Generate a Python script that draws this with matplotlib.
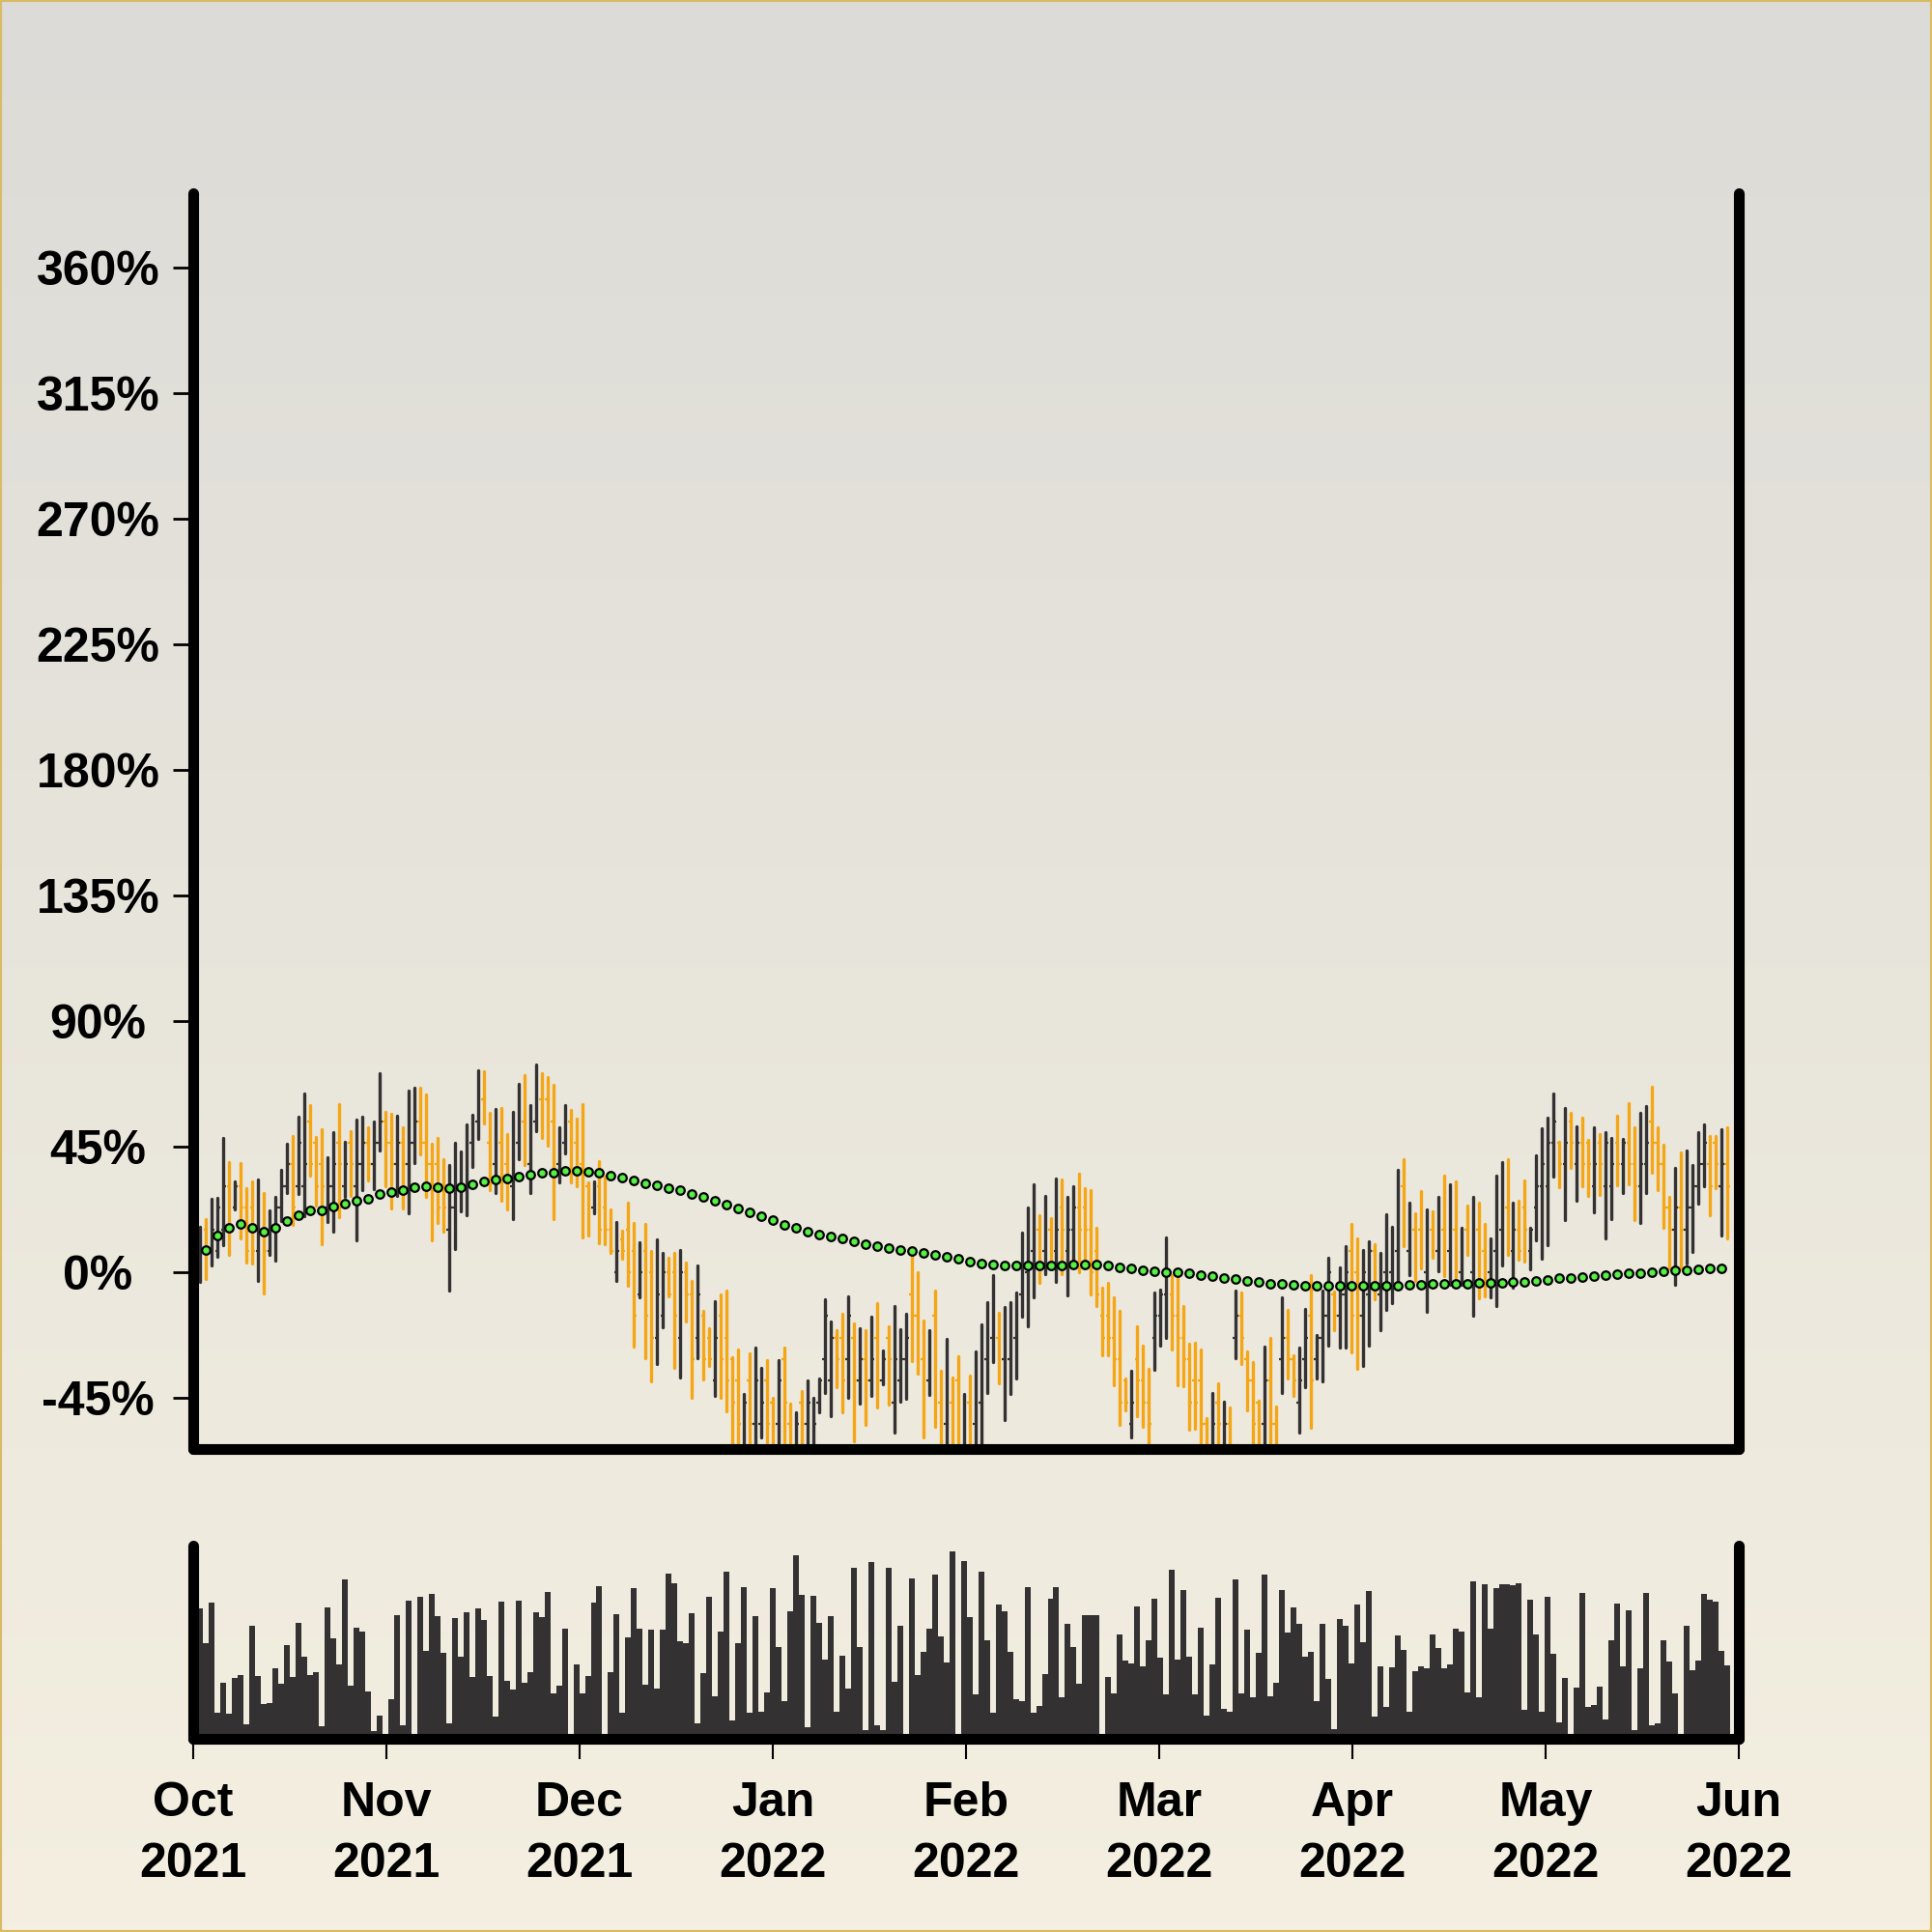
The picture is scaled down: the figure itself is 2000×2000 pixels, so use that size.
import numpy as np
import matplotlib
matplotlib.use('Agg')
import matplotlib.pyplot as plt
from matplotlib.colors import LinearSegmentedColormap
from matplotlib.patches import Rectangle

## Daily OHLC values (percent change), one entry per bar
highs = [
    16.4, 19.3, 26.6, 26.8, 48.4, 39.5, 32.6, 39.3, 30.1, 32.8,
    33.4, 28.4, 22.4, 27.2, 37.0, 46.1, 49.1, 56.0, 64.1, 60.1,
    48.7, 51.5, 41.2, 50.3, 60.3, 46.9, 50.7, 54.9, 55.9, 51.9,
    54.2, 71.5, 57.6, 56.8, 56.2, 51.9, 65.1, 66.3, 66.1, 64.0,
    46.1, 48.4, 40.7, 38.6, 46.4, 43.3, 53.1, 56.6, 72.4, 72.2,
    57.1, 58.6, 59.1, 49.5, 57.6, 67.8, 70.7, 60.1, 74.4, 71.6,
    70.1, 67.2, 52.2, 60.1, 58.3, 55.1, 60.3, 32.4, 32.8, 40.1,
    34.3, 22.8, 18.2, 15.1, 24.9, 17.9, 10.9, 17.4, 7.8, 11.8,
    7.0, 5.5, 6.9, 8.0, 3.7, -2.8, 2.4, -13.6, -19.9, -10.1,
    -7.8, -6.4, -30.3, -27.7, -43.6, -29.1, -26.8, -34.1, -31.4, -44.7,
    -31.2, -26.8, -46.8, -49.9, -42.4, -38.7, -44.7, -38.0, -9.5, -17.6,
    -20.5, -14.7, -8.6, -18.2, -19.9, -20.7, -15.9, -11.0, -28.0, -19.1,
    -12.1, -20.3, -14.7, 6.6, 0.3, -17.0, -20.7, -6.6, -35.2, -23.7,
    -37.6, -30.1, -43.4, -36.9, -28.3, -18.5, -10.7, -0.9, -14.5, -12.4,
    -10.7, -7.0, 14.4, 23.4, 31.7, 20.5, 27.6, 19.6, 33.7, 33.5,
    27.0, 31.1, 35.5, 30.1, 29.7, 15.9, -5.5, -3.7, -8.9, -13.6,
    -37.8, -35.2, -19.1, -26.2, -34.3, -7.0, -6.1, 12.6, -0.9, -0.9,
    -12.1, -25.5, -25.1, -27.6, -52.2, -43.0, -39.5, -46.4, -48.2, -6.3,
    -7.2, -28.2, -32.0, -45.8, -26.5, -23.4, -48.0, -8.7, -13.3, -29.7,
    -26.8, -13.0, -0.9, -22.2, -6.3, 5.2, -6.9, 2.0, 9.5, 17.6,
    12.1, 8.1, 11.2, 10.1, 7.2, 20.8, 16.4, 36.9, 40.7, 24.9,
    21.1, 29.1, 22.8, 21.9, 27.2, 34.7, 31.7, 32.6, 16.1, 24.2,
    27.1, 25.1, 17.6, 12.4, 34.7, 39.7, 40.7, 24.9, 25.9, 32.9,
    16.1, 42.1, 51.7, 55.5, 64.3, 47.0, 59.1, 57.4, 52.4, 55.7,
    47.6, 52.2, 49.6, 50.4, 48.2, 56.2, 47.8, 60.6, 52.2, 57.1,
    59.7, 66.6, 52.2, 45.9, 27.0, 37.4, 43.2, 43.9, 38.4, 50.2,
    53.1, 49.0, 49.0, 51.3, 52.2]
lows = [
    -3.2, -2.4, 2.6, 5.7, 9.7, 6.4, 22.6, 12.4, 3.5, 3.4,
    -2.8, -7.6, 6.4, 4.2, 18.4, 28.6, 17.0, 28.2, 20.1, 34.9,
    23.9, 10.3, 18.2, 14.7, 19.9, 27.2, 27.6, 11.6, 29.7, 33.2,
    29.9, 43.8, 30.9, 23.1, 27.4, 23.1, 21.1, 39.2, 42.4, 27.1,
    11.5, 17.8, 14.7, -6.6, 8.4, 22.0, 20.7, 37.8, 47.8, 53.4,
    29.7, 28.6, 25.9, 22.8, 19.3, 40.7, 38.7, 28.6, 50.8, 48.4,
    45.5, 19.3, 32.3, 42.6, 32.3, 30.9, 12.6, 13.2, 21.3, 10.7,
    10.3, 7.2, -2.9, 5.1, -4.7, -26.5, -8.9, -30.6, -38.9, -32.8,
    -19.6, -8.4, -34.2, -37.6, -17.6, -45.0, -30.5, -38.4, -33.4, -44.1,
    -44.7, -49.6, -66, -66, -68, -66, -70, -59.1, -60.9, -70,
    -66, -68, -70, -68, -67, -66, -70, -49.9, -43.0, -51.6,
    -41.2, -49.9, -44.7, -60.3, -47.0, -54.5, -44.1, -48.2, -40.1, -47.2,
    -57.2, -46.4, -45.3, -31.8, -36.1, -59.1, -43.8, -55.4, -66, -66,
    -66, -68, -66, -66, -68, -65, -43.0, -32.0, -39.5, -52.8,
    -43.6, -37.8, -15.9, -19.3, -8.9, -3.7, -0.6, 4.7, -3.4, -0.6,
    -8.1, 4.0, 0.3, 5.1, -7.8, -11.8, -29.7, -29.7, -40.4, -54.5,
    -49.3, -59.1, -51.6, -55.1, -66, -34.9, -26.0, -23.4, -27.7, -40.4,
    -40.7, -56.2, -56.0, -66, -68, -66, -66, -68, -66, -30.6,
    -32.8, -49.3, -66, -68, -66, -66, -66, -43.0, -38.1, -44.1,
    -57.4, -41.2, -55.7, -38.1, -38.9, -26.2, -20.5, -26.8, -26.8, -28.6,
    -34.6, -33.4, -26.0, -9.5, -20.5, -13.3, -10.9, -4.9, 9.5, -0.9,
    -2.9, 1.4, -14.1, 5.3, 0.5, -1.4, -4.3, -4.3, -4.3, 6.3,
    -15.3, -9.3, -8.6, -8.9, -12.1, 2.4, 6.3, -5.5, 4.7, 4.0,
    1.2, 11.6, 4.9, 9.9, 34.3, 30.6, 18.7, 37.6, 25.6, 31.1,
    27.6, 21.6, 28.0, 12.1, 19.1, 31.2, 28.6, 31.8, 19.0, 17.8,
    28.6, 35.7, 29.4, 16.1, 1.4, -4.3, 1.4, 3.4, 7.5, 24.6,
    31.1, 20.5, 30.3, 13.2, 12.1]
opens = [
    0, 15.5, 7.75, 7.75, 15.5, 31, 23.25, 31, 23.25, 23.25,
    7.75, 15.5, 7.75, 15.5, 23.25, 31, 38.75, 31, 31, 54.25,
    46.5, 38.75, 23.25, 31, 46.5, 31, 46.5, 31, 38.75, 46.5,
    38.75, 46.5, 54.25, 46.5, 38.75, 46.5, 38.75, 46.5, 54.25, 46.5,
    38.75, 38.75, 31, 15.5, 23.25, 31, 31, 46.5, 54.25, 62,
    46.5, 38.75, 46.5, 38.75, 31, 46.5, 54.25, 38.75, 54.25, 62,
    62, 54.25, 38.75, 46.5, 54.25, 46.5, 38.75, 31, 23.25, 31,
    23.25, 15.5, 0, 12, 15.5, 7.75, -7.75, 7.75, 0, -23.25,
    -15.5, 0, 0, -23.25, 0, -7.75, -23.25, -15.5, -23.25, -38.75,
    -15.5, -23.25, -31, -38.75, -62, -38.75, -54.25, -54.25, -38.75, -46.5,
    -54.25, -31, -54.25, -62, -46.5, -54.25, -62, -46.5, -31, -38.75,
    -23.25, -23.25, -31, -23.25, -38.75, -31, -38.75, -23.25, -38.75, -23.25,
    -46.5, -38.75, -31, -7.75, -15.5, -31, -38.75, -15.5, -46.5, -54.25,
    -46.5, -38.75, -62, -46.5, -54.25, -46.5, -31, -23.25, -23.25, -31,
    -31, -23.25, -7.75, 0, 7.75, 15.5, 7.75, 15.5, 7.75, 23.25,
    7.75, 15.5, 23.25, 23.25, 15.5, 7.75, -15.5, -15.5, -23.25, -31,
    -38.75, -54.25, -31, -38.75, -46.5, -23.25, -15.5, -7.75, -7.75, -15.5,
    -23.25, -31, -38.75, -38.75, -54.25, -62, -46.5, -62, -54.25, -23.25,
    -15.5, -31, -38.75, -46.5, -54.25, -38.75, -54.25, -31, -23.25, -31,
    -46.5, -31, -15.5, -31, -23.25, -15.5, -7.75, -15.5, -7.75, 7.75,
    0, -15.5, -7.75, 7.75, -7.75, 0, 0, 7.75, 31, 7.75,
    15.5, 15.5, 0, 15.5, 7.75, 15.5, 7.75, 15.5, 0, 15.5,
    0, 15.5, 7.75, 0, 7.75, 15.5, 23.25, 7.75, 15.5, 23.25,
    7.75, 23.25, 31, 31, 46.5, 46.5, 38.75, 54.25, 38.75, 46.5,
    46.5, 31, 46.5, 31, 31, 46.5, 38.75, 46.5, 38.75, 31,
    38.75, 54.25, 46.5, 38.75, 23.25, 15.5, 23.25, 15.5, 23.25, 31,
    38.75, 38.75, 46.5, 31, 38.75]
closes = [
    7.75, 7.75, 15.5, 23.25, 31, 15.5, 31, 23.25, 7.75, 7.75,
    15.5, 7.75, 15.5, 23.25, 31, 38.75, 23.25, 46.5, 38.75, 38.75,
    31, 31, 31, 38.75, 38.75, 38.75, 38.75, 38.75, 46.5, 38.75,
    46.5, 54.25, 46.5, 38.75, 46.5, 38.75, 46.5, 54.25, 46.5, 38.75,
    31, 23.25, 23.25, 23.25, 31, 38.75, 46.5, 54.25, 62, 54.25,
    38.75, 46.5, 38.75, 31, 46.5, 54.25, 46.5, 46.5, 62, 54.25,
    54.25, 38.75, 46.5, 54.25, 46.5, 38.75, 31, 23.25, 31, 15.5,
    15.5, 7.75, 7.75, 7.75, 0, -15.5, 0, -15.5, -23.25, -7.75,
    0, -7.75, -15.5, 0, -7.75, -31, -7.75, -31, -31, -23.25,
    -31, -38.75, -46.5, -54.25, -46.5, -54.25, -38.75, -46.5, -54.25, -62,
    -38.75, -46.5, -62, -54.25, -54.25, -46.5, -54.25, -38.75, -15.5, -23.25,
    -31, -38.75, -15.5, -38.75, -31, -38.75, -31, -38.75, -31, -31,
    -31, -31, -23.25, -15.5, -23.25, -46.5, -31, -38.75, -54.25, -31,
    -54.25, -54.25, -46.5, -54.25, -38.75, -31, -23.25, -7.75, -31, -23.25,
    -15.5, -15.5, 7.75, 15.5, 23.25, 7.75, 15.5, 7.75, 15.5, 15.5,
    15.5, 23.25, 15.5, 15.5, 0, -7.75, -23.25, -23.25, -31, -46.5,
    -46.5, -46.5, -38.75, -46.5, -54.25, -15.5, -7.75, 0, -15.5, -23.25,
    -31, -46.5, -46.5, -54.25, -62, -54.25, -54.25, -54.25, -62, -15.5,
    -23.25, -38.75, -54.25, -62, -38.75, -54.25, -62, -23.25, -31, -38.75,
    -38.75, -23.25, -38.75, -23.25, -15.5, 0, -15.5, -7.75, 0, -15.5,
    -15.5, 0, 7.75, 0, 0, 7.75, 7.75, 23.25, 23.25, 15.5,
    7.75, 7.75, 15.5, 7.75, 15.5, 7.75, 15.5, 7.75, 7.75, 7.75,
    15.5, 0, 0, 7.75, 15.5, 23.25, 15.5, 15.5, 7.75, 15.5,
    15.5, 31, 38.75, 46.5, 54.25, 38.75, 46.5, 46.5, 46.5, 38.75,
    38.75, 38.75, 38.75, 46.5, 38.75, 38.75, 46.5, 38.75, 31, 38.75,
    46.5, 46.5, 38.75, 23.25, 15.5, 23.25, 15.5, 23.25, 31, 38.75,
    46.5, 31, 38.75, 38.75, 31]

## Daily volume (arbitrary units, axis top = 100)
volumes = [
    67.5, 49.7, 70.3, 13.3, 28.8, 12.8, 31.7, 32.8, 7.5, 58.3,
    32.3, 17.8, 18.5, 36.3, 28.3, 48.7, 32.0, 60.0, 42.5, 32.8,
    34.3, 6.3, 67.8, 51.8, 38.3, 82.3, 27.5, 57.3, 55.5, 24.5,
    4.0, 11.8, 0, 20.3, 64.2, 6.8, 71.3, 0, 73.7, 45.3,
    75.0, 63.3, 44.7, 8.2, 62.3, 42.5, 65.3, 31.8, 67.3, 61.7,
    32.3, 11.3, 71.0, 30.0, 25.3, 71.3, 29.2, 34.5, 65.3, 63.2,
    76.0, 23.7, 27.3, 57.0, 0, 38.3, 23.3, 32.5, 70.3, 79.0,
    0, 34.5, 64.3, 13.7, 52.5, 78.0, 57.0, 27.8, 56.3, 25.8,
    56.3, 85.3, 80.7, 50.5, 49.7, 64.8, 7.8, 34.2, 73.3, 22.2,
    55.5, 86.7, 9.7, 49.7, 78.3, 13.7, 63.3, 14.0, 24.0, 77.8,
    47.5, 19.7, 65.8, 95.0, 74.5, 5.8, 74.0, 60.0, 41.0, 63.7,
    14.0, 43.0, 25.8, 88.3, 47.3, 4.5, 91.3, 7.0, 4.7, 88.3,
    29.5, 58.3, 0, 82.8, 33.2, 44.8, 57.0, 84.8, 52.8, 39.3,
    96.8, 0, 92.0, 63.2, 23.0, 86.3, 51.2, 13.7, 69.5, 65.8,
    45.0, 20.5, 19.5, 78.3, 13.5, 17.2, 33.7, 72.3, 78.3, 21.3,
    59.5, 47.5, 28.7, 64.0, 63.8, 63.8, 0, 32.0, 23.7, 54.2,
    40.3, 39.0, 68.3, 37.3, 50.8, 72.3, 42.0, 23.0, 87.3, 41.2,
    76.8, 42.3, 23.0, 57.3, 11.8, 38.7, 73.0, 15.3, 13.8, 82.5,
    23.3, 56.5, 21.5, 44.3, 84.8, 21.8, 28.8, 76.8, 55.0, 67.8,
    59.5, 42.3, 45.0, 19.7, 59.5, 31.0, 5.0, 61.8, 58.3, 38.8,
    69.3, 50.0, 76.3, 11.3, 37.3, 16.3, 37.0, 53.5, 45.8, 14.2,
    35.2, 37.5, 36.5, 53.8, 47.0, 36.3, 38.7, 56.8, 55.5, 23.8,
    81.5, 21.7, 79.8, 57.0, 78.0, 79.8, 79.8, 79.5, 80.5, 15.2,
    72.2, 53.8, 14.2, 73.3, 44.2, 8.3, 31.5, 0, 26.7, 75.7,
    16.7, 17.5, 26.8, 9.8, 50.8, 69.8, 37.7, 66.3, 4.5, 36.3,
    75.3, 6.8, 8.2, 51.0, 40.0, 23.5, 0, 58.3, 35.7, 40.3,
    74.8, 72.0, 71.2, 45.3, 38.0]

## Moving average, shown on every second bar (bars 1, 3, 5, ...)
ma_values = [
    8.0, 13.2, 15.9, 17.4, 15.9, 14.7, 15.9, 18.5, 20.5, 22.2,
    22.4, 23.6, 24.8, 25.7, 26.5, 28.2, 28.9, 29.4, 30.6, 31.1,
    30.6, 30.3, 30.7, 31.8, 32.6, 33.5, 33.6, 34.4, 35.1, 35.7,
    35.7, 36.4, 36.5, 36.1, 35.7, 34.9, 34.2, 33.1, 32.1, 31.2,
    30.3, 29.4, 28.2, 27.1, 25.9, 24.5, 23.0, 21.5, 20.1, 18.7,
    17.2, 15.9, 14.7, 13.6, 12.9, 12.1, 11.2, 10.3, 9.5, 8.7,
    8.2, 7.8, 7.0, 6.3, 5.7, 4.9, 4.0, 3.2, 2.8, 2.6,
    2.4, 2.4, 2.6, 2.6, 2.7, 2.9, 2.9, 2.8, 2.6, 2.0,
    1.7, 0.9, 0.5, 0.3, 0.1, -0.3, -0.9, -1.4, -2.0, -2.4,
    -2.8, -3.4, -3.9, -4.1, -4.3, -4.6, -4.7, -4.8, -4.8, -4.8,
    -4.8, -4.8, -4.7, -4.6, -4.3, -4.2, -4.1, -3.9, -3.9, -3.9,
    -3.7, -3.6, -3.5, -3.3, -3.2, -2.9, -2.6, -2.1, -1.8, -1.6,
    -1.2, -0.9, -0.5, -0.3, -0.1, 0.3, 0.5, 0.7, 0.7, 1.1,
    1.4, 1.7]

## Axis labels
ytick_values = [-45, 0, 45, 90, 135, 180, 225, 270, 315, 360]
ytick_labels = ['-45%', '0%', '45%', '90%', '135%', '180%', '225%',
                '270%', '315%', '360%']
month_labels = ['Oct\n2021', 'Nov\n2021', 'Dec\n2021', 'Jan\n2022',
                'Feb\n2022', 'Mar\n2022', 'Apr\n2022', 'May\n2022',
                'Jun\n2022']

## Style
plt.rcParams['font.family'] = ['Liberation Sans', 'DejaVu Sans']
plt.rcParams['font.weight'] = 'bold'
up_color = '#333132'
down_color = '#f5a614'
ma_color = '#55ef45'
font_size = 36

highs = np.array(highs)
lows = np.array(lows)
opens = np.array(opens)
closes = np.array(closes)
x = np.arange(len(highs))
bar_colors = np.where(closes >= opens, up_color, down_color)
ma_x = np.arange(len(ma_values)) * 2 + 1
xlim = (-1.23, 266.0)

fig = plt.figure(figsize=(20, 20), dpi=100)

## Background gradient and border
bg = fig.add_axes([0, 0, 1, 1], zorder=-10)
grad = np.linspace(0, 1, 256)[:, None]
bg_cmap = LinearSegmentedColormap.from_list('bg', ['#dcdbd7', '#f4efe0'])
bg.imshow(grad, aspect='auto', cmap=bg_cmap, extent=[0, 1, 0, 1])
bg.axis('off')
fig.add_artist(Rectangle((0, 0), 1, 1, transform=fig.transFigure,
                         fill=False, edgecolor='#d9bb66', linewidth=3))

def style_spines(axis):
    axis.set_facecolor('none')
    axis.spines['top'].set_visible(False)
    for side in ['left', 'right', 'bottom']:
        axis.spines[side].set_linewidth(8)
        axis.spines[side].set_capstyle('round')
        axis.spines[side].set_color('black')

## Price panel
ax = fig.add_axes([0.1, 0.25, 0.8, 0.65])
style_spines(ax)
lc = ax.vlines(x, lows, highs, colors=bar_colors, linewidth=2.4)
lc.set_capstyle('round')
ax.hlines(opens, x - 0.45, x, colors=bar_colors, linewidth=1.6)
ax.hlines(closes, x, x + 0.45, colors=bar_colors, linewidth=1.6)
ax.plot(ma_x, ma_values, linestyle='none', marker='o', markersize=6.2,
        markerfacecolor=ma_color, markeredgecolor='black',
        markeredgewidth=1.6, zorder=3)
ax.set_xlim(*xlim)
ax.set_ylim(-63.2, 386.8)
ax.set_xticks([])
ax.set_yticks(ytick_values)
ax.set_yticklabels(ytick_labels, fontsize=font_size, fontweight='bold')
for lab in ax.get_yticklabels():
    lab.set_horizontalalignment('center')
ax.tick_params(axis='y', direction='out', length=15, width=2, pad=56)

## Volume panel
vax = fig.add_axes([0.1, 0.1, 0.8, 0.1])
style_spines(vax)
vax.bar(x, volumes, width=1.0, color=up_color, linewidth=0)
vax.set_xlim(*xlim)
vax.set_ylim(0, 100)
vax.set_yticks([])
vax.set_xticks(np.linspace(xlim[0], xlim[1], len(month_labels)))
vax.set_xticklabels(month_labels, fontsize=font_size, fontweight='bold')
for lab in vax.get_xticklabels():
    lab.set_linespacing(1.45)
vax.tick_params(axis='x', direction='out', length=15, width=1.5, pad=17)

fig.savefig('out.png', dpi=100)
